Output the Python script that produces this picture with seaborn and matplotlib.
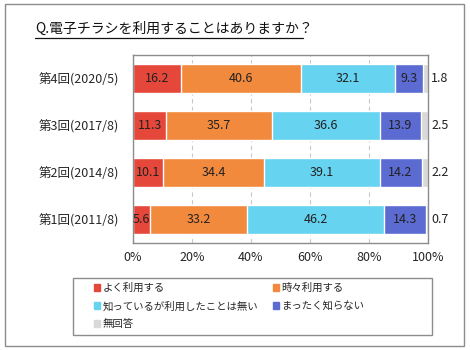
import numpy as np
import pandas as pd
import seaborn as sns
import matplotlib.pyplot as plt
from matplotlib.patches import Rectangle

sns.set_style("white")
plt.rcParams['font.family'] = ['Noto Sans CJK JP', 'DejaVu Sans']

rounds = ["第4回(2020/5)", "第3回(2017/8)", "第2回(2014/8)", "第1回(2011/8)"]
series = ["よく利用する", "時々利用する", "知っているが利用したことは無い", "まったく知らない", "無回答"]
often = [16.2, 11.3, 10.1, 5.6]
sometimes = [40.6, 35.7, 34.4, 33.2]
know_not_used = [32.1, 36.6, 39.1, 46.2]
not_know = [9.3, 13.9, 14.2, 14.3]
no_answer = [1.8, 2.5, 2.2, 0.7]
colors = ["#E5473A", "#F28A3E", "#66D3F0", "#5C6BD2", "#D9D9D9"]

vals = np.array([often, sometimes, know_not_used, not_know, no_answer])
cum = vals.cumsum(axis=0)

fig = plt.figure(figsize=(4.7, 3.5), dpi=100)
# outer border and legend box
fig.patches.append(Rectangle((5/470, 4/350), 459/470, 342/350, transform=fig.transFigure,
                             fill=False, edgecolor="#8c8c8c", lw=1))
fig.patches.append(Rectangle((73/470, 1-335/350), 359/470, 57/350, transform=fig.transFigure,
                             fill=False, edgecolor="#8c8c8c", lw=1))
ax = fig.add_axes([133/470, 1-243/350, 295/470, 188/350])

# stacked bars: draw cumulative totals from the top layer down
for i in range(len(series) - 1, -1, -1):
    df = pd.DataFrame({"round": rounds, "v": cum[i]})
    sns.barplot(data=df, x="v", y="round", color=colors[i], ax=ax, width=0.62,
                saturation=1, orient="h")

for r in range(len(rounds)):
    for i in range(4):
        ax.text(cum[i][r] - vals[i][r] / 2, r, f"{vals[i][r]:.1f}", ha="center", va="center",
                fontsize=9, color="#222222")
    ax.text(104, r, f"{vals[4][r]:.1f}", ha="center", va="center", fontsize=9, color="#222222")

ax.set_xlim(0, 100)
ax.set_ylim(3.5, -0.5)
ax.set_xticks([0, 20, 40, 60, 80, 100])
ax.set_xticklabels(["0%", "20%", "40%", "60%", "80%", "100%"], fontsize=9)
ax.tick_params(axis="x", pad=6, length=0)
ax.tick_params(axis="y", pad=10, length=0, labelsize=9)
ax.set_xlabel("")
ax.set_ylabel("")
ax.xaxis.grid(True, linestyle=(0, (4, 3)), color="#c8c8c8", lw=0.8)
ax.set_axisbelow(True)
for s in ax.spines.values():
    s.set_color("#8c8c8c")
    s.set_linewidth(1)

fig.text(35/470, 1-29/350, "Q.電子チラシを利用することはありますか？", fontsize=10, va="center",
         ha="left", color="#111111")
fig.add_artist(plt.Line2D([35/470, 303/470], [1-38/350, 1-38/350], color="#111111", lw=0.9))

# legend laid out row by row like the reference (matplotlib fills columns first)
order = [0, 2, 4, 1, 3]
handles = [Rectangle((0, 0), 1, 1, color=colors[k]) for k in order]
labels = [series[k] for k in order]
fs = 7.5
em = fs * 100 / 72
# width of first column so the second one starts near x=275px
t = fig.text(0, 0, series[2], fontsize=fs)
fig.canvas.draw()
w1 = t.get_window_extent().width
t.remove()
cs = (275 - 96 - 0.8 * em - w1) / em
leg = fig.legend(handles, labels, loc="upper left", bbox_to_anchor=(94/470, 1-283/350),
                 ncol=2, fontsize=fs, frameon=False,
                 handlelength=0.6, handleheight=0.6, handletextpad=0.2, columnspacing=cs,
                 labelspacing=0.75, borderpad=0, borderaxespad=0)

fig.savefig("out.png", dpi=100)
